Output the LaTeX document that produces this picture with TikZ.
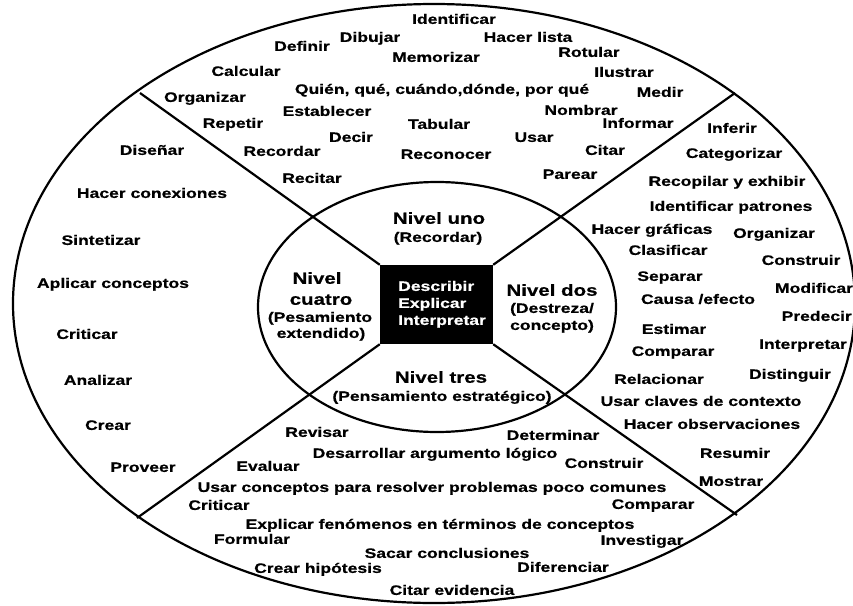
\documentclass[tikz,border=0pt]{standalone}
\usepackage{fontspec}
\setmainfont{Liberation Sans}[FakeStretch=1.28, FakeBold=0.6]
\usetikzlibrary{shapes.geometric}
\begin{document}
\begin{tikzpicture}[x=1pt,y=-1pt,
  lbl/.style={font=\fontsize{13.7}{15}\selectfont\bfseries, inner sep=0pt, text height=9.8pt, text depth=0pt},
  ttl/.style={font=\fontsize{16}{18}\selectfont\bfseries, inner sep=0pt, text height=11.5pt, text depth=0pt},
  ring/.style={draw=black, line width=2.2pt}]
\useasboundingbox (0,0) rectangle (853,605);
\fill[white] (0,0) rectangle (853,605);
% shapes
\node[ellipse, ring, minimum width=842pt, minimum height=599pt, inner sep=0pt] (outer) at (434,303.5) {};
\node[ellipse, ring, minimum width=358pt, minimum height=250pt, inner sep=0pt] (inner) at (437,307) {};
\node[fill=black, minimum width=113pt, minimum height=79pt, inner sep=0pt] (box) at (436.5,304.5) {};
\coordinate (tl) at (140,93);
\coordinate (tr) at (735,93);
\coordinate (bl) at (137,518);
\coordinate (br) at (737,515);
\draw[ring] (box.north west) -- (tl);
\draw[ring] (box.north east) -- (tr);
\draw[ring] (box.south west) -- (bl);
\draw[ring] (box.south east) -- (br);
% centre box text
\node[lbl, text=white, anchor=west] (bx1) at (398,286) {Describir};
\node[lbl, text=white, anchor=west] (bx2) at (398,303) {Explicar};
\node[lbl, text=white, anchor=west] (bx3) at (398,320) {Interpretar};
% level titles
\node[ttl] (n1) at (439,218) {Nivel uno};
\node[lbl] (n1s) at (438,237) {(Recordar)};
\node[ttl] (n2) at (552,290) {Nivel dos};
\node[lbl] (n2s) at (552,308) {(Destreza/};
\node[lbl] (n2t) at (552,325) {concepto)};
\node[ttl] (n3) at (441,377) {Nivel tres};
\node[lbl] (n3s) at (442,396) {(Pensamiento estratégico)};
\node[ttl] (n4) at (317,278) {Nivel};
\node[ttl] (n4b) at (321,299) {cuatro};
\node[lbl] (n4s) at (320,317) {(Pesamiento};
\node[lbl] (n4t) at (321,333) {extendido)};
% top sector
\node[lbl] (t1) at (454,19) {Identificar};
\node[lbl] (t2) at (370,37) {Dibujar};
\node[lbl] (t3) at (528,37) {Hacer lista};
\node[lbl] (t4) at (302,46) {Definir};
\node[lbl] (t5) at (436,57) {Memorizar};
\node[lbl] (t6) at (589,52) {Rotular};
\node[lbl] (t7) at (246,71) {Calcular};
\node[lbl] (t8) at (624,72) {Ilustrar};
\node[lbl] (t9) at (442,89) {Quién, qué, cuándo,dónde, por qué};
\node[lbl] (t10) at (205,97) {Organizar};
\node[lbl] (t11) at (660,92) {Medir};
\node[lbl] (t12) at (327,111) {Establecer};
\node[lbl] (t13) at (581,110) {Nombrar};
\node[lbl] (t14) at (233,123) {Repetir};
\node[lbl] (t15) at (439,124) {Tabular};
\node[lbl] (t16) at (638,123) {Informar};
\node[lbl] (t17) at (351,137) {Decir};
\node[lbl] (t18) at (534,137) {Usar};
\node[lbl] (t19) at (282,151) {Recordar};
\node[lbl] (t20) at (446,154) {Reconocer};
\node[lbl] (t21) at (605,150) {Citar};
\node[lbl] (t22) at (312,178) {Recitar};
\node[lbl] (t23) at (570,174) {Parear};
% right sector
\node[lbl] (r1) at (732,128) {Inferir};
\node[lbl] (r2) at (734,153) {Categorizar};
\node[lbl] (r3) at (727,181) {Recopilar y exhibir};
\node[lbl] (r4) at (731,206) {Identificar patrones};
\node[lbl] (r5) at (652,229) {Hacer gráficas};
\node[lbl] (r6) at (774,233) {Organizar};
\node[lbl] (r7) at (668,250) {Clasificar};
\node[lbl] (r8) at (801,260) {Construir};
\node[lbl] (r9) at (670,276) {Separar};
\node[lbl] (r10) at (814,288) {Modificar};
\node[lbl] (r11) at (698,299) {Causa /efecto};
\node[lbl, anchor=east] (r12) at (852,316) {Predecir};
\node[lbl] (r13) at (674,329) {Estimar};
\node[lbl] (r14) at (673,351) {Comparar};
\node[lbl] (r15) at (803,344) {Interpretar};
\node[lbl] (r16) at (659,379) {Relacionar};
\node[lbl] (r17) at (790,374) {Distinguir};
\node[lbl] (r18) at (701,401) {Usar claves de contexto};
\node[lbl] (r19) at (712,424) {Hacer observaciones};
\node[lbl] (r20) at (735,453) {Resumir};
\node[lbl] (r21) at (731,481) {Mostrar};
% left sector
\node[lbl] (l1) at (152,150) {Diseñar};
\node[lbl] (l2) at (152,193) {Hacer conexiones};
\node[lbl] (l3) at (101,240) {Sintetizar};
\node[lbl] (l4) at (113,283) {Aplicar conceptos};
\node[lbl] (l5) at (87,334) {Criticar};
\node[lbl] (l6) at (98,380) {Analizar};
\node[lbl] (l7) at (108,425) {Crear};
\node[lbl] (l8) at (143,467) {Proveer};
% bottom sector
\node[lbl] (b1) at (317,432) {Revisar};
\node[lbl] (b2) at (553,435) {Determinar};
\node[lbl] (b3) at (435,453) {Desarrollar argumento lógico};
\node[lbl] (b4) at (268,466) {Evaluar};
\node[lbl] (b5) at (604,463) {Construir};
\node[lbl] (b6) at (432,487) {Usar conceptos para resolver problemas poco comunes};
\node[lbl] (b7) at (219,505) {Criticar};
\node[lbl] (b8) at (653,504) {Comparar};
\node[lbl] (b9) at (440,524) {Explicar fenómenos en términos de conceptos};
\node[lbl] (b10) at (252,539) {Formular};
\node[lbl] (b11) at (642,540) {Investigar};
\node[lbl] (b12) at (447,553) {Sacar conclusiones};
\node[lbl] (b13) at (318,568) {Crear hipótesis};
\node[lbl] (b14) at (563,567) {Diferenciar};
\node[lbl] (b15) at (452,590) {Citar evidencia};
\end{tikzpicture}
\end{document}
